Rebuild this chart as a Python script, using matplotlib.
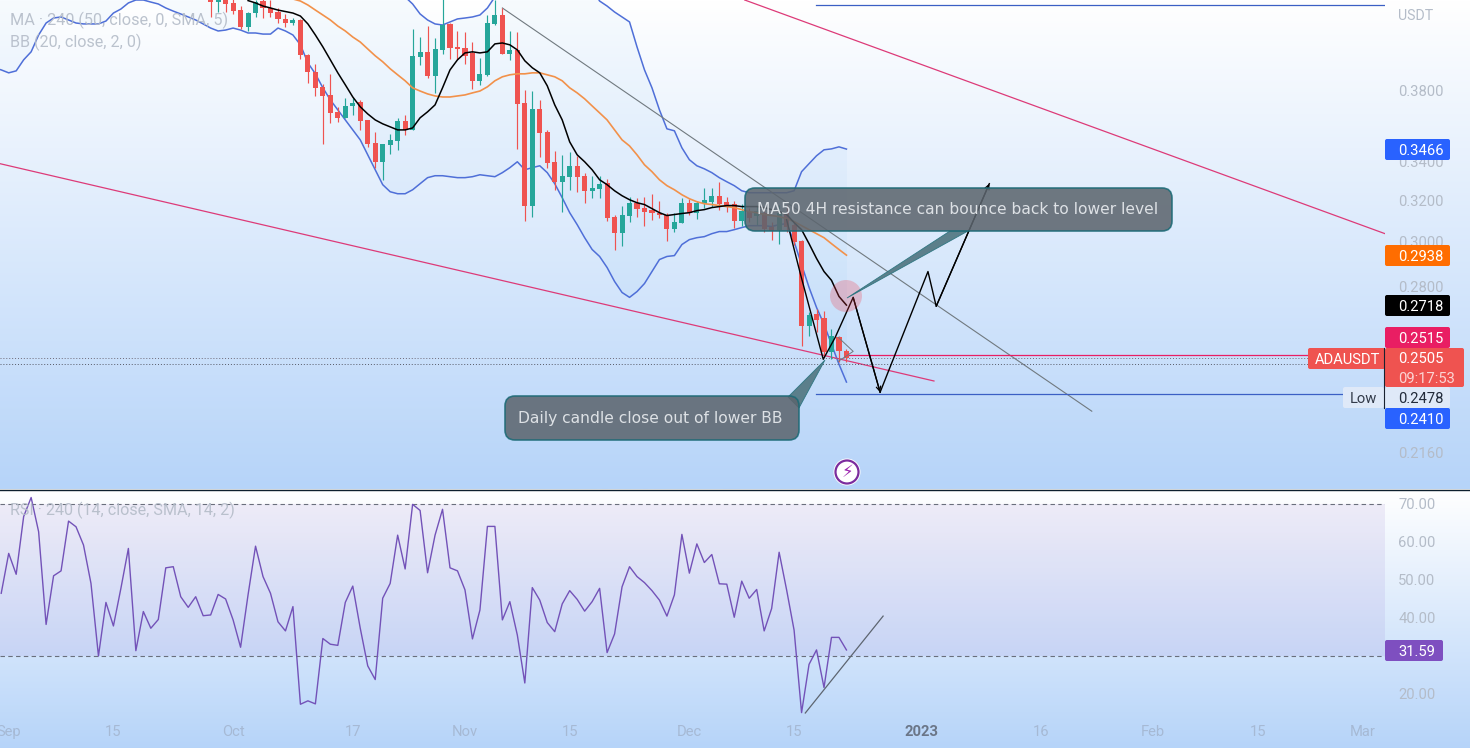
import numpy as np
import matplotlib
matplotlib.use("Agg")
import matplotlib.pyplot as plt
from matplotlib.patches import FancyBboxPatch, Circle, Polygon

# дни считаем от 1 сентября 2022
first_candle = 27
opens = [.4386, .4358, .4386, .4352, .4304, .4192, .4284, .4365, .4318, .4291, .4245, .4218, .4238, .4014, .3909, .3819,
         .3771, .3673, .3639, .3707, .3730, .3627, .3500, .3398, .3489, .3511, .3621, .3571, .4002, .4033, .3885, .4045,
         .4212, .4064, .4058, .4026, .3855, .3891, .4212, .4271, .4020, .4045, .3725, .3174, .3690, .3560, .3398, .3294,
         .3320, .3377, .3325, .3248, .3258, .3289, .3120, .3043, .3125, .3188, .3164, .3154, .3139, .3130, .3062, .3091,
         .3188, .3135, .3183, .3193, .3223, .3193, .3183, .3100, .3144, .3125, .3139, .3072, .3057, .3139, .3081, .3005,
         .2629, .2679, .2662, .2525, .2585, .2529]
highs = [.4400, .4400, .4400, .4380, .4331, .4291, .4372, .4390, .4372, .4318, .4278, .4251, .4245, .4020, .3958, .3837,
         .3897, .3702, .3753, .3753, .3742, .3627, .3560, .3494, .3549, .3639, .3656, .4179, .4127, .4198, .4121, .4400,
         .4218, .4166, .4159, .4095, .3995, .4271, .4372, .4318, .4166, .4159, .3800, .3794, .3742, .3571, .3457, .3435,
         .3451, .3430, .3341, .3325, .3325, .3309, .3130, .3174, .3218, .3213, .3218, .3233, .3198, .3139, .3139, .3213,
         .3208, .3198, .3263, .3263, .3294, .3218, .3198, .3183, .3164, .3179, .3154, .3096, .3179, .3179, .3096, .3010,
         .2687, .2700, .2692, .2617, .2589, .2537]
lows = [.4258, .4291, .4291, .4278, .4179, .4166, .4258, .4251, .4258, .4218, .4192, .4205, .3989, .3843, .3765, .3494,
        .3610, .3616, .3639, .3656, .3571, .3478, .3367, .3304, .3441, .3462, .3543, .3571, .3952, .3873, .3783, .4020,
        .3989, .3989, .3958, .3806, .3831, .3885, .4205, .4020, .3983, .3467, .3100, .3120, .3425, .3367, .3253, .3144,
        .3253, .3243, .3188, .3213, .3213, .3100, .2964, .2982, .3096, .3120, .3076, .3105, .3115, .3005, .3048, .3091,
        .3130, .3110, .3164, .3169, .3154, .3144, .3067, .3076, .3096, .3081, .3048, .3010, .2991, .3048, .2987, .2549,
        .2589, .2605, .2506, .2498, .2487, .2487]
closes = [.4358, .4386, .4348, .4297, .4192, .4284, .4358, .4318, .4284, .4245, .4218, .4238, .4014, .3909, .3813, .3765,
          .3667, .3639, .3707, .3725, .3621, .3494, .3398, .3494, .3516, .3621, .3571, .4008, .4033, .3885, .4051, .4205,
          .4058, .4051, .4008, .3855, .3897, .4218, .4271, .4020, .4045, .3719, .3174, .3690, .3554, .3393, .3294, .3325,
          .3377, .3320, .3248, .3263, .3284, .3115, .3043, .3130, .3188, .3159, .3144, .3139, .3130, .3062, .3096, .3188,
          .3139, .3188, .3203, .3223, .3183, .3174, .3100, .3149, .3115, .3149, .3062, .3052, .3139, .3072, .3001, .2629,
          .2675, .2654, .2525, .2589, .2529, .2505]

ma_start = 32
ma_black = [.4368, .4352, .4331, .4318, .4304, .4294, .4284, .4264, .4212, .4140, .4064, .3983, .3903, .3831, .3759,
            .3702, .3661, .3627, .3605, .3588, .3571, .3571, .3582, .3639, .3673, .3713, .3813, .3921, .3983, .4026,
            .4033, .4026, .4033, .4083, .4089, .4077, .4045, .3977, .3934, .3903, .3825, .3713, .3627, .3505, .3435,
            .3398, .3356, .3304, .3279, .3248, .3223, .3203, .3188, .3179, .3159, .3139, .3125, .3130, .3135, .3139,
            .3149, .3154, .3164, .3169, .3174, .3174, .3169, .3169, .3169, .3164, .3154, .3144, .3130, .3091, .3057,
            .2991, .2923, .2864, .2825, .2755, .2718]

orange_start = 38
ma_orange = [.4379, .4365, .4338, .4304, .4271, .4238, .4198, .4166, .4127, .4095, .4051, .4008, .3971, .3928, .3891,
             .3855, .3813, .3794, .3777, .3765, .3759, .3759, .3765, .3771, .3783, .3794, .3819, .3855, .3879, .3891,
             .3897, .3897, .3903, .3903, .3891, .3879, .3855, .3813, .3783, .3748, .3707, .3667, .3627, .3571, .3516,
             .3483, .3435, .3382, .3346, .3304, .3274, .3253, .3228, .3208, .3193, .3183, .3179, .3174, .3169, .3164,
             .3154, .3144, .3139, .3130, .3125, .3120, .3110, .3096, .3076, .3057, .3038, .3019, .2991, .2964, .2938]

lower_start = -2
bb_lower = [.3934, .3921, .3903, .3915, .3983, .4033, .4140, .4218, .4251, .4258, .4238, .4218, .4212, .4212, .4212,
            .4231, .4284, .4311, .4352, .4372, .4372, .4358, .4345, .4318, .4297, .4278, .4258, .4238, .4212, .4185,
            .4166, .4172, .4185, .4172, .4153, .4153, .4146, .4146, .4185, .4166, .4140, .4077, .3964, .3897, .3813,
            .3742, .3684, .3627, .3571, .3516, .3435, .3356, .3279, .3243, .3233, .3233, .3253, .3284, .3315, .3325,
            .3325, .3320, .3315, .3315, .3320, .3330, .3325, .3320, .3341, .3367, .3398, .3356, .3367, .3377, .3341,
            .3284, .3213, .3139, .3081, .3019, .2964, .2932, .2882, .2820, .2772, .2751, .2776, .2811, .2864, .2918,
            .2932, .2936, .2987, .3010, .3019, .3024, .3038, .3048, .3048, .3057, .3067, .3076, .3076, .3076, .3072,
            .3081, .3086, .3001, .2895, .2794, .2708, .2638, .2557, .2479, .2411]

upper_start = 53
bb_upper = [.4393, .4345, .4278, .4238, .4212, .4205, .4225, .4245, .4251, .4258, .4271, .4318, .4393, .45, .46, .47,
            .48, .48, .48, .48, .47, .47, .46, .46, .45, .445, .4365, .4331, .4291, .4258, .4225, .4064, .3921, .3813,
            .3684, .3577, .3566, .3473, .3409, .3377, .3361, .3341, .3315, .3294, .3274, .3248, .3238, .3238, .3238,
            .3238, .3238, .3238, .3248, .3346, .3388, .3430, .3462, .3467, .3478, .3466]

rsi_start = -1
rsi = [46.5, 57.0, 51.5, 66.7, 71.7, 62.7, 38.3, 51.1, 52.4, 65.5, 64.0, 59.2, 49.1, 30.0, 44.1, 37.9, 47.8, 58.3, 31.4,
       41.7, 37.3, 39.6, 53.2, 53.5, 45.6, 42.8, 45.6, 40.6, 40.8, 46.2, 45.0, 39.5, 32.3, 46.1, 58.9, 50.9, 46.5, 39.0,
       36.6, 43.0, 17.3, 18.2, 17.4, 34.6, 33.1, 32.8, 44.1, 48.4, 37.3, 27.4, 23.8, 45.2, 49.1, 61.8, 52.9, 69.9, 68.3,
       51.9, 61.8, 68.6, 53.2, 52.4, 47.4, 34.5, 42.1, 64.1, 64.1, 39.5, 44.3, 35.5, 22.9, 48.0, 44.7, 38.8, 36.4, 43.7,
       47.2, 44.9, 41.8, 44.3, 47.8, 30.9, 35.8, 48.2, 53.5, 50.9, 49.3, 47.2, 44.7, 40.5, 46.1, 62.0, 51.8, 59.5, 54.6,
       56.7, 49.0, 48.9, 40.2, 49.7, 45.2, 47.5, 36.6, 42.5, 57.3, 47.4, 36.8, 15.1, 27.8, 31.6, 21.7, 34.9, 34.9, 31.59]

# ручная разметка: (день, цена)
path_days = [104.0, 105.8, 108.9, 110.5, 112.9, 116.5]
path_prices = [.3105, .2859, .2498, .2585, .2751, .2373]
path2_days = [116.5, 122.9, 124.0, 131.1]
path2_prices = [.2373, .2864, .2713, .3284]
triangle_days = [110.9, 112.9, 110.9]
triangle_prices = [.2585, .2529, .2490]

tick_days = [0, 14, 30, 46, 61, 75, 91, 105, 122, 138, 153, 167, 181]
tick_names = ["Sep", "15", "Oct", "17", "Nov", "15", "Dec", "15", "2023", "16", "Feb", "15", "Mar"]
price_ticks = [.38, .34, .32, .30, .28, .216]
rsi_ticks = [70, 60, 50, 40, 20]

GREEN = "#26a69a"
RED = "#ef5350"
BLUE = "#4f6fd8"
PINK = "#dd3a78"
GREY_TEXT = "#b4bcc8"
W, H = 1470, 748

plt.rcParams["font.family"] = ["Roboto", "DejaVu Sans"]
fig = plt.figure(figsize=(W / 100, H / 100), dpi=100)


def pane(top, bottom, right=1385):
    return fig.add_axes([0, 1 - bottom / H, right / W, (bottom - top) / H])


def gradient(top_y, bottom_y):
    # фон панели от белого к голубому
    c1 = np.array([1.0, 1.0, 1.0])
    c2 = np.array([0xb6, 0xd4, 0xf9]) / 255
    t = np.linspace(0, 1, 256)[:, None, None]
    img = c1[None, None, :] * (1 - t) + c2[None, None, :] * t
    bg.imshow(img, extent=[0, W, bottom_y, top_y], aspect="auto", zorder=0)


bg = fig.add_axes([0, 0, 1, 1], zorder=-1)
gradient(0, 489)
gradient(490, 748)
bg.set_xlim(0, W)
bg.set_ylim(H, 0)
bg.axis("off")

# верхняя панель: цена, лог. шкала
ax = pane(0, 489)
ax.patch.set_alpha(0)
ax.set_yscale("log")
ax.set_xlim(-1.163, 184)
ax.set_ylim(.2041, .4372)

days = first_candle + np.arange(len(opens))
opens_a, closes_a = np.array(opens), np.array(closes)
colors = [GREEN if c >= o else RED for o, c in zip(opens, closes)]
ax.vlines(days, lows, highs, colors=colors, lw=0.85, zorder=3)
ax.bar(days, np.abs(closes_a - opens_a), bottom=np.minimum(opens_a, closes_a), width=0.68, color=colors, zorder=3)

lower_days = lower_start + np.arange(len(bb_lower))
upper_days = upper_start + np.arange(len(bb_upper))
# левее верхняя полоса за кадром
upper_full = np.r_[np.full(upper_start - lower_start, .46), bb_upper]
ax.fill_between(lower_days, bb_lower, upper_full, color="#2196f3", alpha=0.035, lw=0, zorder=1)
ax.plot(lower_days, bb_lower, color=BLUE, lw=1.1, zorder=2)
ax.plot(upper_days, bb_upper, color=BLUE, lw=1.1, zorder=2)
ax.plot(orange_start + np.arange(len(ma_orange)), ma_orange, color="#f2914a", lw=1.2, zorder=4)
ax.plot(ma_start + np.arange(len(ma_black)), ma_black, color="black", lw=1.1, zorder=4)

ax.plot([-1.163, 123.7], [.3388, .2415], color=PINK, lw=0.9, zorder=2)
ax.plot([98.4, 184], [.4372, .3038], color=PINK, lw=0.9, zorder=2)
ax.plot([66, 144.8], [.4318, .2304], color="#70797f", lw=0.8, zorder=2)
ax.plot([107.9, 184], [.4338, .4338], color="#3b5fc4", lw=0.9, zorder=2)
ax.plot([107.9, 178.7], [.2365, .2365], color="#3b5fc4", lw=0.9, zorder=2)
ax.plot([112, 173.7], [.2515, .2515], color="#e91e63", lw=0.9, zorder=2)
ax.plot([-1.163, 173.7], [.2505, .2505], color="#6f6a78", lw=0.7, ls=(0, (1, 2)), zorder=2)
ax.plot([-1.163, 178.7], [.2478, .2478], color="#555a66", lw=0.7, ls=(0, (1, 2)), zorder=2)
ax.plot(triangle_days, triangle_prices, color="#70797f", lw=0.7, zorder=4)

ax.plot(path_days, path_prices, color="black", lw=1.0, zorder=5)
ax.plot(path2_days, path2_prices, color="black", lw=1.0, zorder=5)
for dd, pp in ((path_days, path_prices), (path2_days, path2_prices)):
    ax.annotate("", xy=(dd[-1], pp[-1]), xytext=(dd[-2], pp[-2]), zorder=5,
                arrowprops=dict(arrowstyle="->", lw=0.9, color="black", shrinkA=0, shrinkB=0, mutation_scale=8))

ax.set_xticks([])
ax.yaxis.tick_right()
ax.yaxis.set_major_locator(plt.FixedLocator(price_ticks))
ax.yaxis.set_major_formatter(plt.FuncFormatter(lambda v, _: f"{v:.4f}"))
ax.yaxis.set_minor_locator(plt.NullLocator())
ax.tick_params(axis="y", length=0, pad=9.5, labelsize=10.6, labelcolor=GREY_TEXT)
for s in ax.spines.values():
    s.set_visible(False)

# нижняя панель RSI
ax2 = pane(490, 748)
ax2.patch.set_alpha(0)
ax2.set_xlim(-1.163, 184)
ax2.set_ylim(5.79, 73.68)
ax2.axhspan(30, 70, color="#7e57c2", alpha=0.1, lw=0)
ax2.axhline(70, color="#6a6f7c", lw=0.8, ls=(0, (4, 3)))
ax2.axhline(30, color="#6a6f7c", lw=0.8, ls=(0, (4, 3)))
ax2.plot(rsi_start + np.arange(len(rsi)), rsi, color="#7352b8", lw=1.0)
ax2.plot([106.5, 116.9], [15, 40.5], color="#5d6570", lw=0.9)
ax2.yaxis.tick_right()
ax2.set_yticks(rsi_ticks, [f"{v:.2f}" for v in rsi_ticks])
ax2.tick_params(axis="y", length=0, pad=9.5, labelsize=10.6, labelcolor=GREY_TEXT)
ax2.set_xticks(tick_days, tick_names)
ax2.tick_params(axis="x", length=0, pad=-16.8, labelsize=10.6, labelcolor="#a6b9d4")
for lab in ax2.get_xticklabels():
    if lab.get_text() == "2023":
        lab.set_fontweight("bold")
        lab.set_color("#6b7688")
for s in ax2.spines.values():
    s.set_visible(False)

# оверлей в пикселях: плашки и подписи
ov = fig.add_axes([0, 0, 1, 1], zorder=5)
ov.set_xlim(0, W)
ov.set_ylim(H, 0)
ov.axis("off")
ov.plot([0, W], [489.5, 489.5], color="#0d1f2d", lw=1.0)


def tag(x0, x1, y0, y1, fc, lines, tc="white", x=1398):
    ov.add_patch(FancyBboxPatch((x0 + 1, y0 + 1), x1 - x0 - 2, y1 - y0 - 2, boxstyle="round,pad=1,rounding_size=2",
                                fc=fc, ec="none", zorder=6))
    step = (y1 - y0) / len(lines)
    for i, (txt, col) in enumerate(lines):
        ov.text(x, y0 + step * (i + 0.5), txt, color=col or tc, fontsize=10.6, va="center_baseline", zorder=7)


tag(1385, 1450, 139, 160, "#2962ff", [("0.3466", None)])
tag(1385, 1450, 245, 266, "#ff6d00", [("0.2938", None)])
tag(1385, 1450, 295, 316, "#000000", [("0.2718", None)])
tag(1385, 1450, 327, 348, "#e91e63", [("0.2515", None)])
tag(1385, 1464, 348, 387, RED, [("0.2505", None), ("09:17:53", "#fbd5d4")])
tag(1308, 1385, 348, 369, RED, [("ADAUSDT", None)], x=1315)
tag(1343, 1384, 387, 408, "#dfe9f8", [("Low", "#333b4a")], x=1350)
tag(1385, 1450, 387, 408, "#dfe9f8", [("0.2478", "#222b3a")])
tag(1385, 1450, 408, 429, "#2962ff", [("0.2410", None)])
tag(1385, 1443, 640, 661, "#7e4fc0", [("31.59", None)])
ov.plot([1384.5, 1384.5], [348, 408], color="#1a2230", lw=0.8, zorder=8)
ov.text(1398, 16, "USDT", color=GREY_TEXT, fontsize=10.2, va="center")

ov.text(10, 20, "MA · 240 (50, close, 0, SMA, 5)", color=GREY_TEXT, fontsize=11.7, va="center", alpha=0.9)
ov.text(10, 42, "BB (20, close, 2, 0)", color=GREY_TEXT, fontsize=11.6, va="center", alpha=0.9)
ov.text(10, 510, "RSI · 240 (14, close, SMA, 14, 2)", color=GREY_TEXT, fontsize=11.6, va="center", alpha=0.9)

# красный кружок и значок
ov.add_patch(Circle((846, 296), 16, fc="#f23645", alpha=0.25, ec="none", zorder=3))
ov.add_patch(Circle((847, 472), 13.5, fc="white", ec="none", zorder=3))
ov.add_patch(Circle((847, 472), 11.5, fc="white", ec="#7b2c9e", lw=1.6, zorder=3))
ov.text(847, 472, "⚡", color="#9c27b0", fontsize=12, ha="center", va="center", family="DejaVu Sans", zorder=4)


def callout(x0, x1, y0, y1, tail, text, tx):
    ov.add_patch(Polygon(tail, closed=True, fc="#557a85", ec="#2b7580", lw=0.6, alpha=0.95, zorder=3))
    ov.add_patch(FancyBboxPatch((x0 + 10, y0 + 10), x1 - x0 - 20, y1 - y0 - 20, boxstyle="round,pad=10,rounding_size=10",
                                fc="#5c656e", ec="#1c6a76", lw=1.2, alpha=0.87, zorder=3))
    ov.text(tx, (y0 + y1) / 2, text, color="#dde1e5", fontsize=11.2, family="DejaVu Sans", va="center", zorder=4)


callout(745, 1172, 188, 231, [(950, 231), (968, 231), (847, 298)],
        "MA50 4H resistance can bounce back to lower level", 757)
callout(505, 799, 396, 440, [(788, 397), (799, 408), (825, 360)],
        "Daily candle close out of lower BB", 518)

fig.savefig("out.png", dpi=100)
